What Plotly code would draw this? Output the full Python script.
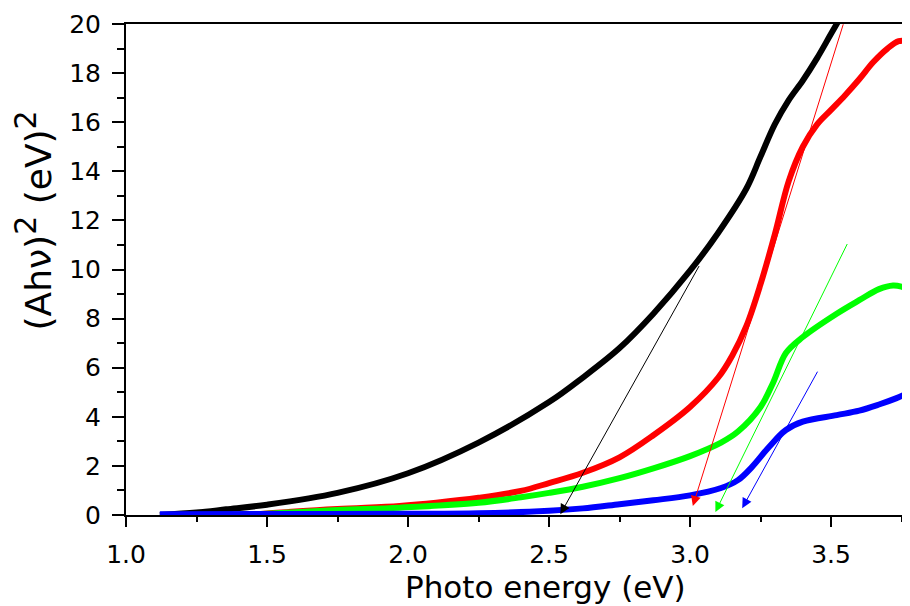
import plotly.graph_objects as go

# ---- data ----
black_x = [1.12, 1.25, 1.355, 1.5, 1.75, 2.0, 2.25, 2.5, 2.62, 2.75, 2.87, 3.0, 3.1, 3.2, 3.25, 3.3, 3.35, 3.4, 3.45, 3.5, 3.55]
black_y = [0.0, 0.1, 0.23, 0.42, 0.9, 1.7, 2.95, 4.6, 5.6, 6.8, 8.2, 9.95, 11.5, 13.3, 14.6, 15.9, 16.9, 17.7, 18.6, 19.6, 20.6]

red_x = [1.45, 1.5, 1.75, 1.97, 2.1, 2.25, 2.4, 2.5, 2.62, 2.75, 2.87, 3.0, 3.1, 3.15, 3.2, 3.25, 3.3, 3.35, 3.4, 3.45, 3.50, 3.55, 3.60, 3.65, 3.70, 3.74, 3.78]
red_y = [0.0, 0.06, 0.24, 0.37, 0.5, 0.7, 0.98, 1.3, 1.72, 2.35, 3.25, 4.4, 5.6, 6.5, 7.7, 9.4, 11.4, 13.6, 15.0, 15.9, 16.5, 17.1, 17.75, 18.45, 19.0, 19.3, 19.3]

green_x = [1.39, 1.5, 1.75, 1.97, 2.25, 2.4, 2.5, 2.62, 2.75, 2.87, 3.0, 3.11, 3.17, 3.25, 3.295, 3.34, 3.40, 3.52, 3.60, 3.67, 3.72, 3.75, 3.78]
green_y = [0.0, 0.05, 0.2, 0.3, 0.5, 0.72, 0.9, 1.15, 1.5, 1.9, 2.4, 2.95, 3.4, 4.4, 5.4, 6.6, 7.25, 8.2, 8.75, 9.2, 9.35, 9.3, 9.15]

blue_x = [1.12, 1.5, 2.0, 2.25, 2.5, 2.62, 2.75, 2.87, 3.0, 3.11, 3.17, 3.22, 3.28, 3.34, 3.40, 3.52, 3.60, 3.67, 3.73, 3.78]
blue_y = [0.03, 0.04, 0.05, 0.07, 0.17, 0.27, 0.44, 0.6, 0.8, 1.1, 1.42, 1.96, 2.77, 3.46, 3.8, 4.07, 4.25, 4.5, 4.75, 5.0]

# tangent arrows: tail (start) and tip (end) in data units
arrow_colors = ["#000000", "#FF0000", "#00FF00", "#0000FF"]
arrow_tail_x = [3.035, 3.545, 3.56, 3.455]
arrow_tail_y = [10.2, 20.05, 11.1, 5.9]
arrow_tip_x = [2.54, 3.01, 3.09, 3.185]
arrow_tip_y = [0.03, 0.37, 0.12, 0.28]

x_ticks = [1.0, 1.5, 2.0, 2.5, 3.0, 3.5]
x_tick_labels = ["1.0", "1.5", "2.0", "2.5", "3.0", "3.5"]
y_ticks = [0, 2, 4, 6, 8, 10, 12, 14, 16, 18, 20]
y_tick_labels = [str(v) for v in y_ticks]

FONT = "DejaVu Sans"

fig = go.Figure()
for xs, ys, col in [(black_x, black_y, "#000000"), (red_x, red_y, "#FF0000"),
                    (green_x, green_y, "#00FF00"), (blue_x, blue_y, "#0000FF")]:
    fig.add_trace(go.Scatter(x=xs, y=ys, mode="lines",
                             line=dict(color=col, width=6, shape="spline", smoothing=1.0),
                             showlegend=False, hoverinfo="skip"))

annotations = []
for c, tx, ty, hx, hy in zip(arrow_colors, arrow_tail_x, arrow_tail_y, arrow_tip_x, arrow_tip_y):
    annotations.append(dict(x=hx, y=hy, ax=tx, ay=ty, xref="x", yref="y", axref="x", ayref="y",
                            text="", showarrow=True, arrowhead=2, arrowsize=2.0, arrowwidth=1,
                            arrowcolor=c, standoff=0, startstandoff=0))

annotations.append(dict(text="Photo energy (eV)", xref="paper", yref="paper", x=0.5, y=0,
                        xanchor="center", yanchor="middle", xshift=27, yshift=-72,
                        showarrow=False, font=dict(family=FONT, size=31, color="#000000")))
annotations.append(dict(text="(Ahν)<sup><span style='font-size:30px'>2</span></sup>&nbsp;(eV)<sup><span style='font-size:30px'>2</span></sup>",
                        xref="paper", yref="paper",
                        x=0, y=0.5, xanchor="center", yanchor="middle", xshift=-93, yshift=49,
                        textangle=-90, showarrow=False,
                        font=dict(family=FONT, size=36, color="#000000")))

# the page body has an 8 px margin, so the figure is drawn 8 px in and down
fig.update_layout(
    width=902, height=598,
    margin=dict(l=118, r=0, t=16, b=91, autoexpand=False),
    paper_bgcolor="white", plot_bgcolor="white",
    annotations=annotations,
    xaxis=dict(range=[1.0, 3.78], tickvals=x_ticks, ticktext=x_tick_labels, automargin=False,
               ticks="outside", ticklen=10, tickwidth=2, tickcolor="#000000",
               showline=True, linecolor="#000000", linewidth=2, mirror=True,
               showgrid=False, zeroline=False, ticklabelstandoff=6,
               tickfont=dict(family=FONT, size=25, color="#000000"),
               minor=dict(dtick=0.25, tick0=1.0, ticks="outside", ticklen=5, tickwidth=2,
                          tickcolor="#000000", showgrid=False)),
    yaxis=dict(range=[0, 20], tickvals=y_ticks, ticktext=y_tick_labels, automargin=False,
               ticks="outside", ticklen=12, tickwidth=2, tickcolor="#000000",
               showline=True, linecolor="#000000", linewidth=2, mirror=False,
               showgrid=False, zeroline=False, ticklabelstandoff=6,
               tickfont=dict(family=FONT, size=25, color="#000000"),
               minor=dict(dtick=1, tick0=0, ticks="outside", ticklen=7, tickwidth=2,
                          tickcolor="#000000", showgrid=False)),
)

fig.write_html("out.html")
